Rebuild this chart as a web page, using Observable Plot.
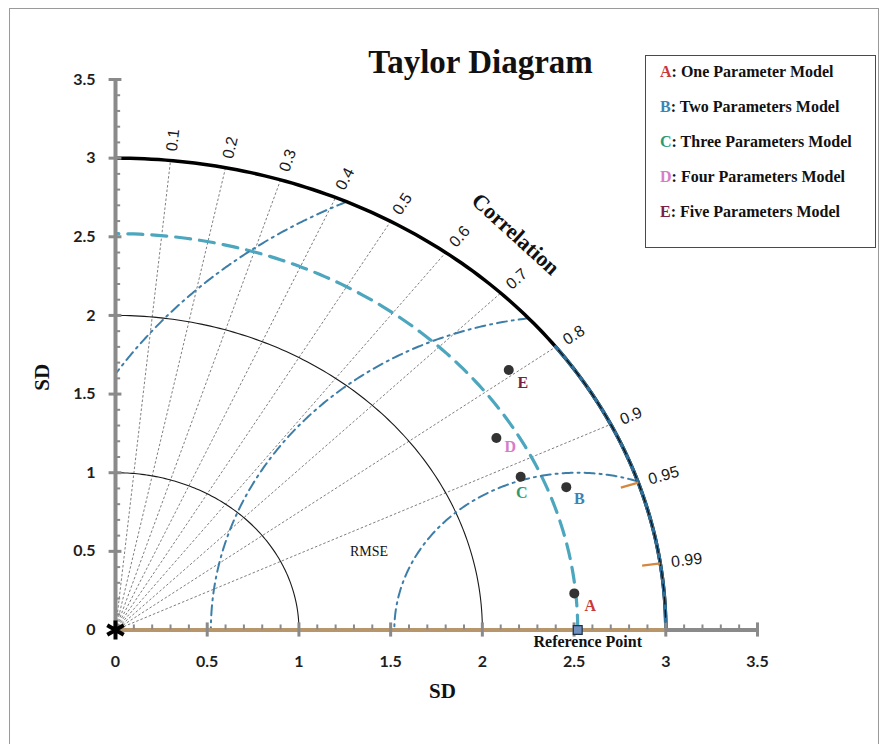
<!DOCTYPE html>
<html><head><meta charset="utf-8">
<script src="https://cdn.jsdelivr.net/npm/d3@7"></script>
<script src="https://cdn.jsdelivr.net/npm/@observablehq/plot@0.6"></script>
<style>
body{margin:0;background:#fff}
#wrap{position:relative;width:887px;height:744px;overflow:hidden;background:#fff}
#chart{position:absolute;left:0;top:0}
#frame{position:absolute;left:9px;top:8px;width:868px;height:800px;border:1px solid #9a9a9a;pointer-events:none}
#legend{position:absolute;left:645px;top:55px;width:229px;height:191px;border:1.5px solid #4a4a4a;background:#fff;font-family:"Liberation Serif","Times New Roman",serif;font-weight:bold;font-size:16px;color:#111}
.entry{position:absolute;left:14px;white-space:nowrap;line-height:20px}
</style></head><body>
<div id="wrap"><div id="chart"></div><div id="frame"></div><div id="legend"></div></div>
<script>
// ---- data ----
const sdTicks = [0, 0.5, 1, 1.5, 2, 2.5, 3, 3.5];
const sdTickLabels = ["0", "0.5", "1", "1.5", "2", "2.5", "3", "3.5"];
const minorTicks = [0.1,0.2,0.3,0.4,0.6,0.7,0.8,0.9,1.1,1.2,1.3,1.4,1.6,1.7,1.8,1.9,2.1,2.2,2.3,2.4,2.6,2.7,2.8,2.9,3.1,3.2,3.3,3.4];
const corrTicks = [0.1, 0.2, 0.3, 0.4, 0.5, 0.6, 0.7, 0.8, 0.9, 0.95, 0.99];
const corrTickLabels = ["0.1","0.2","0.3","0.4","0.5","0.6","0.7","0.8","0.9","0.95","0.99"];
const corrGridLines = [0.1, 0.2, 0.3, 0.4, 0.5, 0.6, 0.7, 0.8, 0.9];
const corrMarkTicks = [0.95, 0.99];
const sdArcs = [1, 2];
const sdMax = 3;
const refSD = 2.52;
const rmseRadii = [1, 2, 3];
const modelLetters = ["A", "B", "C", "D", "E"];
const modelNames = ["One Parameter Model", "Two Parameters Model", "Three Parameters Model", "Four Parameters Model", "Five Parameters Model"];
const modelColors = ["#c83a3a", "#3b84b6", "#2e9a73", "#d77ccb", "#7a2146"];
const modelSD = [2.512, 2.620, 2.414, 2.409, 2.707];
const modelCorr = [0.9957, 0.938, 0.915, 0.862, 0.792];
const corrTitle = {sd: 3.33, corr: 0.655, text: "Correlation"};
const rmseLabel = {sd: 1.47, corr: 0.94, text: "RMSE"};

// ---- layout ----
const W = 887, H = 744, mL = 115, mR = 130, mT = 79, mB = 114.5;
const kx = (W - mL - mR) / 3.5, ky = (H - mT - mB) / 3.5;
const pixAngle = (x, y) => Math.atan2(y * ky, x * kx) * 180 / Math.PI;
const polar = (sd, c) => ({x: sd * c, y: sd * Math.sqrt(1 - c * c)});

function arc(r, a0, a1, id, n = 120) {
  const pts = [];
  for (let i = 0; i <= n; i++) { const a = a0 + (a1 - a0) * i / n; pts.push({x: r * Math.cos(a), y: r * Math.sin(a), id}); }
  return pts;
}
function rmseArc(R, id, n = 200) {
  const xi = (sdMax * sdMax - R * R + refSD * refSD) / (2 * refSD);
  const yi = Math.sqrt(sdMax * sdMax - xi * xi);
  const t0 = Math.atan2(yi, xi - refSD);
  const t1 = refSD - R >= 0 ? Math.PI : Math.acos(-refSD / R);
  const pts = [];
  for (let i = 0; i <= n; i++) { const t = t0 + (t1 - t0) * i / n; pts.push({x: refSD + R * Math.cos(t), y: R * Math.sin(t), id}); }
  return pts;
}

const models = modelLetters.map((l, i) => ({l, ...polar(modelSD[i], modelCorr[i]), color: modelColors[i]}));
const labDx = [16, 13, 1, 14, 14], labDy = [12, 12, 16, 9, 13];
const gridLinks = corrGridLines.map(c => ({c, ...polar(sdMax, c)}));
const markLinks = corrMarkTicks.map(c => ({a: polar(sdMax - 0.1, c), b: polar(sdMax, c)}));
const corrLabels = corrTicks.map((c, i) => ({...polar(3.06, c), t: corrTickLabels[i]}));
const ct = polar(corrTitle.sd, corrTitle.corr);
const rl = polar(rmseLabel.sd, rmseLabel.corr);

const sdArcPts = sdArcs.flatMap(r => arc(r, 0, Math.PI / 2, r));
const rmsePts = rmseRadii.flatMap(R => rmseArc(R, R));
const refArcPts = arc(refSD, 0, Math.PI / 2, "ref");
const outerPts = arc(sdMax, 0, Math.PI / 2, "outer");
const outerBluePts = arc(sdMax, 0, Math.acos(0.8), "ob", 60);

const serif = "Liberation Serif, Times New Roman, serif";
const sans = "Lato, Liberation Sans, sans-serif";
const gray = "#8a8a8a";

const chart = Plot.plot({
  width: W, height: H, marginLeft: mL, marginRight: mR, marginTop: mT, marginBottom: mB,
  x: {domain: [0, 3.5], axis: null},
  y: {domain: [0, 3.5], axis: null},
  style: {background: "transparent"},
  marks: [
    // correlation grid lines
    Plot.link(gridLinks, {x1: 0, y1: 0, x2: "x", y2: "y", stroke: "#6f6f6f", strokeWidth: 0.9, strokeDasharray: "2.5,2"}),
    // SD arcs
    Plot.line(sdArcPts, {x: "x", y: "y", z: "id", stroke: "#1a1a1a", strokeWidth: 1.1}),
    // reference SD arc
    Plot.line(refArcPts, {x: "x", y: "y", stroke: "#4ba6be", strokeWidth: 3.2, strokeDasharray: "15,9"}),
    // RMSE arcs
    Plot.line(rmsePts, {x: "x", y: "y", z: "id", stroke: "#3d7ea8", strokeWidth: 2, strokeDasharray: "10,5,2,5"}),
    // outer arc
    Plot.line(outerPts, {x: "x", y: "y", stroke: "#000", strokeWidth: 3.5}),
    Plot.line(outerBluePts, {x: "x", y: "y", stroke: "#2d6f9a", strokeWidth: 3.5}),
    Plot.line(outerBluePts, {x: "x", y: "y", stroke: "#111", strokeWidth: 1.3, strokeDasharray: "7,6"}),
    // orange correlation marks
    Plot.link(markLinks, {x1: d => d.a.x, y1: d => d.a.y, x2: d => d.b.x, y2: d => d.b.y, stroke: "#d4873e", strokeWidth: 2.2}),
    // axes
    Plot.ruleX([0], {y1: 0, y2: 3.5, stroke: gray, strokeWidth: 4}),
    Plot.ruleY([0], {x1: 0, x2: 3.5, stroke: gray, strokeWidth: 4}),
    Plot.ruleY([0], {x1: 0, x2: 3, stroke: "#b8966c", strokeWidth: 4}),
    Plot.ruleY(minorTicks, {x1: 0, x2: 0.028, stroke: gray, strokeWidth: 2}),
    Plot.ruleX(minorTicks, {y1: 0, y2: 0.032, stroke: gray, strokeWidth: 2}),
    Plot.ruleY(sdTicks.slice(1), {x1: -0.035, x2: 0.035, stroke: gray, strokeWidth: 3}),
    Plot.ruleX(sdTicks.slice(1), {y1: -0.045, y2: 0.045, stroke: gray, strokeWidth: 3}),
    // tick labels
    Plot.text(sdTicks, {x: 0, y: d => d, text: (d, i) => sdTickLabels[i], textAnchor: "end", dx: -20, fontFamily: sans, fontWeight: 700, fontSize: 16, fill: "#1e1e1e"}),
    Plot.text(sdTicks, {x: d => d, y: 0, text: (d, i) => sdTickLabels[i], dy: 32, fontFamily: sans, fontWeight: 700, fontSize: 16, fill: "#1e1e1e"}),
    // correlation labels
    Plot.text(corrLabels, {x: "x", y: "y", text: "t", textAnchor: "start", rotate: d => -pixAngle(d.x, d.y), fontFamily: "Liberation Sans, Arial, sans-serif", fontSize: 16, fill: "#1a1a1a"}),
    Plot.text([corrTitle], {x: () => ct.x, y: () => ct.y, text: "text", rotate: () => 90 - pixAngle(ct.x, ct.y) - 3, fontFamily: serif, fontWeight: 700, fontSize: 22, fill: "#111"}),
    Plot.text([rmseLabel], {x: () => rl.x, y: () => rl.y, text: "text", fontFamily: serif, fontSize: 14, fill: "#111"}),
    // reference point
    Plot.dot([refSD], {x: d => d, y: 0, symbol: "square", r: 5, fill: "#6f8fbe", stroke: "#1f2f45", strokeWidth: 1.2}),
    Plot.text(["Reference Point"], {x: refSD, y: 0, text: d => d, dx: 10, dy: 12, fontFamily: serif, fontWeight: 700, fontSize: 16, fill: "#111"}),
    // origin star
    Plot.dot([0], {x: 0, y: 0, symbol: "asterisk", r: 9, stroke: "#000", strokeWidth: 4}),
    // models
    Plot.dot(models, {x: "x", y: "y", r: 5, fill: "#333"}),
    Plot.text(models, {x: "x", y: "y", text: "l", fill: "color", fontFamily: serif, fontWeight: 700, fontSize: 16}),
    // titles
    Plot.text(["SD"], {frameAnchor: "bottom", text: d => d, dx: 6, dy: 68, fontFamily: serif, fontWeight: 700, fontSize: 21, fill: "#111"}),
    Plot.text(["SD"], {frameAnchor: "left", text: d => d, rotate: -90, dx: -73, dy: 36, fontFamily: serif, fontWeight: 700, fontSize: 21, fill: "#111"}),
    Plot.text(["Taylor Diagram"], {frameAnchor: "top", text: d => d, dx: 44, dy: -30, fontFamily: serif, fontWeight: 700, fontSize: 33, fill: "#111"})
  ]
});
document.getElementById("chart").appendChild(chart);

// per-point label offsets (styles)
[...chart.querySelectorAll("g[aria-label='text']")].forEach(g => {
  const ts = [...g.querySelectorAll("text")];
  if (ts.length === modelLetters.length && ts.every((t, i) => t.textContent === modelLetters[i])) {
    ts.forEach((t, i) => t.setAttribute("transform", (t.getAttribute("transform") || "") + ` translate(${labDx[i]},${labDy[i]})`));
  }
});

// legend
const legend = document.getElementById("legend");
modelLetters.forEach((l, i) => {
  const d = document.createElement("div");
  d.className = "entry";
  d.style.top = (6 + i * 34.9) + "px";
  d.innerHTML = `<span style="color:${modelColors[i]}">${l}</span>: ${modelNames[i]}`;
  legend.appendChild(d);
});
</script>
</body></html>
